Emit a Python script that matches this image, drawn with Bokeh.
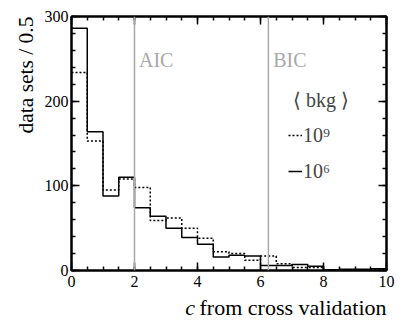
import numpy as np
from bokeh.plotting import figure
from bokeh.models import (Range1d, LinearAxis, FixedTicker, Span, Label,
                          Legend, LegendItem)
from bokeh.embed import file_html
from bokeh.resources import INLINE

# ---- data -------------------------------------------------------------
bin_edges = [0.0, 0.5, 1.0, 1.5, 2.0, 2.5, 3.0, 3.5, 4.0, 4.5, 5.0,
             5.5, 6.0, 6.5, 7.0, 7.5, 8.0, 8.5, 9.0, 9.5, 10.0]
counts_bkg_1e6 = [286, 164, 88, 110, 74, 64, 50, 39, 31, 16,
                  18, 17, 6, 6, 7, 5, 1, 1.5, 1.5, 2]
counts_bkg_1e9 = [234, 153, 95, 108, 98, 59, 62, 50, 38, 22,
                  20, 12, 17, 8, 3.5, 3.5, 1, 1, 1, 1.5]
aic_c = 2.0
bic_c = 6.25
x_major_ticks = [0, 2, 4, 6, 8, 10]
y_major_ticks = [0, 100, 200, 300]
legend_title = "\u00a0\u27e8 bkg \u27e9"
legend_labels = ["10\u2079", "10\u2076"]

FONT = "Liberation Serif"
GRAY = "#a8a8a8"

p = figure(width=407, height=323, x_range=Range1d(0, 10), y_range=Range1d(0, 300),
           output_backend="svg", toolbar_location=None,
           x_axis_type=None, y_axis_type=None,
           min_border_left=71, min_border_right=21, min_border_top=16,
           min_border_bottom=53)
p.grid.visible = False
p.outline_line_color = "black"
p.outline_line_width = 2
p.background_fill_color = "white"
p.border_fill_color = "white"

x_minor = list(np.arange(0, 10.01, 0.5))
y_minor = list(np.arange(0, 300.1, 20))


def make_axis(ticks, minor, labels):
    ax = LinearAxis(ticker=FixedTicker(ticks=ticks, minor_ticks=minor),
                    axis_line_width=2, axis_line_color="black",
                    major_tick_in=8, major_tick_out=0,
                    minor_tick_in=4, minor_tick_out=0,
                    major_tick_line_width=1.5, minor_tick_line_width=1.5,
                    major_label_text_font=FONT,
                    major_label_text_font_size="16px",
                    major_label_text_color="black")
    if not labels:
        ax.major_label_text_color = None
    return ax


xb = make_axis(x_major_ticks, x_minor, True)
xb.major_label_standoff = 5
yl = make_axis(y_major_ticks, y_minor, True)
yl.major_label_standoff = 3
p.add_layout(xb, "below")
p.add_layout(yl, "left")
p.add_layout(make_axis(x_major_ticks, x_minor, False), "above")
p.add_layout(make_axis(y_major_ticks, y_minor, False), "right")

# AIC / BIC lines
p.add_layout(Span(location=aic_c, dimension="height", line_color=GRAY, line_width=1.5))
p.add_layout(Span(location=bic_c, dimension="height", line_color=GRAY, line_width=1.5))

# histograms
r9 = p.step(x=bin_edges, y=counts_bkg_1e9 + [counts_bkg_1e9[-1]], mode="after",
            line_color="black", line_width=1.5, line_dash="2 2")
r6 = p.step(x=bin_edges, y=counts_bkg_1e6 + [counts_bkg_1e6[-1]], mode="after",
            line_color="black", line_width=1.5)

# AIC / BIC texts
p.add_layout(Label(x=aic_c, y=300, x_offset=4.5, y_offset=-43,
                   text="AIC", text_color=GRAY, text_font=FONT,
                   text_font_size="20px", text_baseline="alphabetic"))
p.add_layout(Label(x=bic_c, y=300, x_offset=4.8, y_offset=-43,
                   text="BIC", text_color=GRAY, text_font=FONT,
                   text_font_size="20px", text_baseline="alphabetic"))

# axis titles (placed in side panels so that they are not clipped)
p.add_layout(Label(x=0, y=300, x_offset=-46, angle=np.pi / 2,
                   text="data sets / 0.5", text_align="right",
                   text_baseline="alphabetic", text_font=FONT,
                   text_font_size="21.5px", text_color="black"), "left")
p.add_layout(Label(x=10, y=0, y_offset=-37, text="from cross validation",
                   text_align="right", text_baseline="alphabetic",
                   text_font=FONT, text_font_size="22px", text_color="black"),
             "below")
p.add_layout(Label(x=10, y=0, x_offset=-191.5, y_offset=-37, text="c",
                   text_align="right", text_baseline="alphabetic",
                   text_font=FONT, text_font_style="italic",
                   text_font_size="22px", text_color="black"), "right")

legend = Legend(items=[LegendItem(label=legend_labels[0], renderers=[r9]),
                       LegendItem(label=legend_labels[1], renderers=[r6])],
                title=legend_title, location=(217, 81),
                border_line_color=None, background_fill_alpha=0,
                padding=0, margin=0, spacing=0,
                glyph_width=14, glyph_height=36, label_height=36,
                label_standoff=1, label_text_font=FONT,
                label_text_font_size="20px",
                title_text_font=FONT, title_text_font_size="20px",
                title_text_font_style="normal", title_standoff=5)
p.add_layout(legend)

open("out.html", "w").write(file_html(p, INLINE))
